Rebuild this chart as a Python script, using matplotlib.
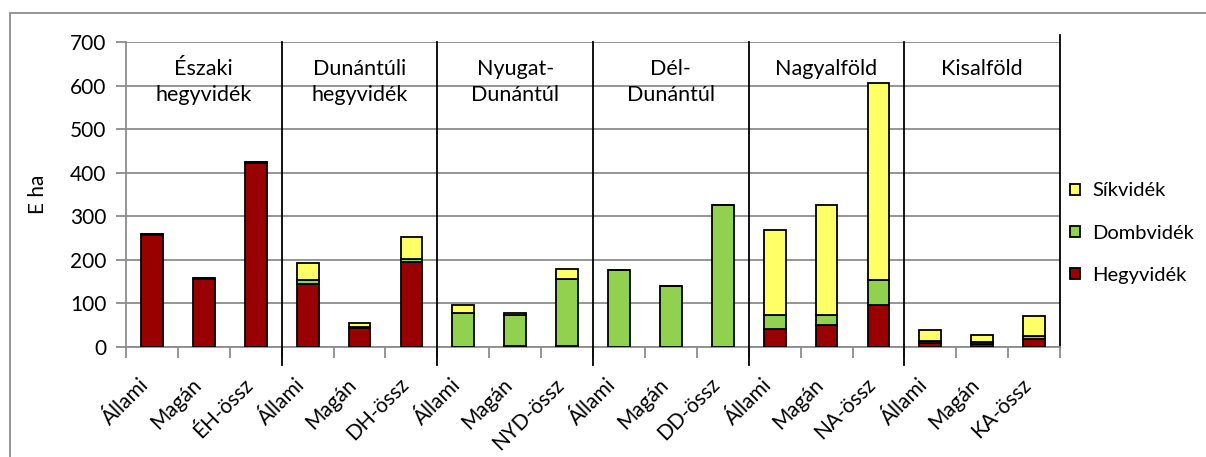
import numpy as np
import matplotlib
matplotlib.use("Agg")
import matplotlib.pyplot as plt
from matplotlib.patches import Rectangle
from matplotlib.transforms import ScaledTranslation

plt.rcParams['font.family'] = ['Lato', 'DejaVu Sans']

groups = ["Északi\nhegyvidék", "Dunántúli\nhegyvidék", "Nyugat-\nDunántúl",
          "Dél-\nDunántúl", "Nagyalföld", "Kisalföld"]
cats = ["Állami", "Magán", "ÉH-össz",
        "Állami", "Magán", "DH-össz",
        "Állami", "Magán", "NYD-össz",
        "Állami", "Magán", "DD-össz",
        "Állami", "Magán", "NA-össz",
        "Állami", "Magán", "KA-össz"]
hegy = [258, 157, 422, 145, 43, 194, 0, 2, 3, 0, 0, 0, 42, 50, 96, 9, 8, 19]
domb = [2, 1, 2, 8, 3, 9, 78, 71, 152, 176, 141, 326, 31, 23, 57, 4, 3, 7]
sik = [0, 0, 0, 40, 10, 50, 18, 6, 24, 1, 0, 1, 195, 252, 454, 27, 16, 44]

c_hegy = "#990000"
c_domb = "#92D050"
c_sik = "#FFFF66"

fig = plt.figure(figsize=(12.06, 4.57), dpi=100)
ax = fig.add_axes([0.1045, 0.2407, 0.7745, 0.6674])

x = np.arange(len(cats))
hegy = np.array(hegy); domb = np.array(domb); sik = np.array(sik)
w = 0.42
kw = dict(width=w, edgecolor="black", linewidth=1.3, zorder=3)
b1 = ax.bar(x, hegy, color=c_hegy, label="Hegyvidék", **kw)
b2 = ax.bar(x, domb, bottom=hegy, color=c_domb, label="Dombvidék", **kw)
b3 = ax.bar(x, sik, bottom=hegy + domb, color=c_sik, label="Síkvidék", **kw)

ax.set_xlim(-0.5, len(cats) - 0.5)
ax.set_ylim(0, 700)
ax.set_yticks(range(0, 701, 100))
ax.yaxis.grid(True, color="#8c8c8c", linewidth=1.3, zorder=0)
ax.tick_params(axis="y", length=7, color="#8c8c8c", width=1.3, labelsize=15, pad=7)
ax.spines["top"].set_visible(False)
ax.spines["left"].set_color("#8c8c8c")
ax.spines["left"].set_linewidth(1.3)
ax.spines["bottom"].set_color("#8c8c8c")
ax.spines["bottom"].set_linewidth(1.3)
ax.spines["right"].set_color("black")
ax.spines["right"].set_linewidth(1.3)
ax.spines["right"].set_bounds(0, 715)

# category labels
ax.set_xticks(x)
ax.set_xticklabels(cats, rotation=45, ha="right", rotation_mode="anchor", fontsize=15)
ax.tick_params(axis="x", length=0, pad=14)
shift = ScaledTranslation(-13 / 100, -8 / 100, fig.dpi_scale_trans)
for lab in ax.get_xticklabels():
    lab.set_transform(lab.get_transform() + shift)
# boundary tick marks
ax.set_xticks(np.arange(-0.5, len(cats), 1), minor=True)
ax.tick_params(axis="x", which="minor", length=8, color="#8c8c8c", width=1.3)

# group dividers and titles
for g in range(1, len(groups)):
    ax.plot([g * 3 - 0.5] * 2, [-42, 700], color="black", linewidth=1.3,
            clip_on=False, zorder=4)
for g, name in enumerate(groups):
    ax.text(g * 3 + 1, 662, name, ha="center", va="top", fontsize=15.5,
            linespacing=1.42, zorder=5)

ax.set_ylabel("E ha", fontsize=15, labelpad=16)

handles = [b3, b2, b1]
fig.legend(handles, [h.get_label() for h in handles], loc="center left",
           bbox_to_anchor=(0.884, 0.49), frameon=False, fontsize=14.5,
           borderaxespad=0, borderpad=0.2,
           handlelength=0.5, handleheight=0.5, handletextpad=0.6,
           labelspacing=1.25)

fig.patches.append(Rectangle((10 / 1206, -0.1), 1.2, 1 - 13 / 457 + 0.1,
                             transform=fig.transFigure, fill=False,
                             edgecolor="#8c8c8c", linewidth=1.3))

fig.savefig("out.png", dpi=100)
